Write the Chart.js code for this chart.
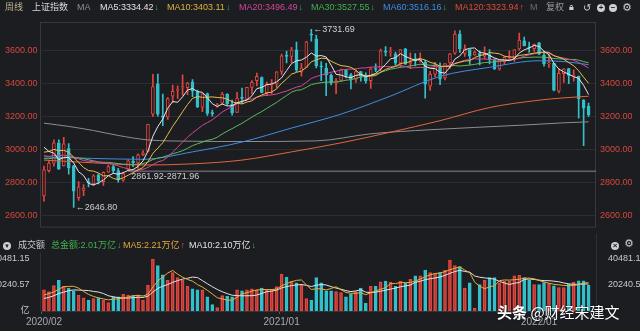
<!DOCTYPE html>
<html>
<head>
<meta charset="utf-8">
<script src="https://cdn.jsdelivr.net/npm/chart.js@4.4.1/dist/chart.umd.min.js"></script>
<style>
  body { margin: 0; width: 640px; height: 331px; overflow: hidden; position: relative; background: #1c1d21;
         font-family: "Liberation Sans", "Noto Sans CJK SC", sans-serif; }
  canvas { position: absolute; left: 0; }
  #main { top: 0; }
  #vol { top: 234px; }
  .t { position: absolute; font-size: 9px; line-height: 15px; white-space: nowrap; }
  .dn { color: #2fb14a; margin-left: 1px; }
  .upa { color: #e2463f; margin-left: 1px; }
  .dot { position: absolute; width: 8px; height: 8px; border-radius: 50%; background: #cfcfd2; color: #1c1d21;
         font-size: 8px; line-height: 8px; text-align: center; font-weight: bold; }
  #mark { position: absolute; left: 497px; top: 302px; font-size: 15px; line-height: 20px; color: #fff;
          font-family: "Noto Sans CJK SC", sans-serif; text-shadow: 0 0 2px rgba(0,0,0,0.6); white-space: nowrap; }
</style>
</head>
<body>
<canvas id="main" width="640" height="236"></canvas>
<canvas id="vol" width="640" height="97"></canvas>

<div class="t" style="left:5px;top:0;color:#bdb391">周线</div>
<div class="t" style="left:32px;top:0;color:#d6d6d8">上证指数</div>
<div class="t" style="left:77px;top:0;color:#8e8e92">MA</div>
<div class="t" id="hMA5" style="left:100px;top:0;color:#e4e4e6"></div>
<div class="t" id="hMA10" style="left:167px;top:0;color:#dcb43c"></div>
<div class="t" id="hMA20" style="left:239px;top:0;color:#d2449a"></div>
<div class="t" id="hMA30" style="left:311px;top:0;color:#3fb04e"></div>
<div class="t" id="hMA60" style="left:383px;top:0;color:#3a8ee0"></div>
<div class="t" id="hMA120" style="left:455px;top:0;color:#e04a3a"></div>
<div class="t" style="left:530px;top:0;color:#6d6d72">M</div>
<div class="t" style="left:546px;top:0;color:#9c9ca0">复权</div>
<div class="t" style="left:569px;top:0;color:#cfcfd2">&#x1F512;&#xFE0E;</div>
<div class="t" style="left:583px;top:0;color:#cfcfd2;font-size:10px">&#x21BA;</div>
<div class="dot" style="left:597px;top:4px">+</div>
<div class="dot" style="left:609px;top:4px">&#x2212;</div>
<div class="t" style="left:622px;top:0;color:#cfcfd2;font-size:11px;font-family:'DejaVu Sans'">&#x2699;</div>

<div class="dot" style="left:3px;top:242px;font-size:6px">&#x25BC;</div>
<div class="t" style="left:18px;top:238px;color:#c8c8cb">成交额</div>
<div class="t" id="hVol" style="left:51px;top:238px;color:#3fb04e"></div>
<div class="t" id="hVMA5" style="left:123px;top:238px;color:#e0a83a"></div>
<div class="t" id="hVMA10" style="left:189px;top:238px;color:#e2e2e4"></div>
<div class="dot" style="left:611px;top:242px">&#xD7;</div>
<div class="t" style="left:624px;top:236px;color:#cfcfd2;font-size:11px;font-family:'DejaVu Sans'">&#x2699;</div>

<div id="mark"><b>头条</b> @财经宋建文</div>

<script>
// Shanghai Composite, weekly candles, 2020/02/07 - 2022/03/25
const weeks = [
  '2020/02/07','2020/02/14','2020/02/21','2020/02/28','2020/03/06','2020/03/13','2020/03/20','2020/03/27','2020/04/03','2020/04/10',
  '2020/04/17','2020/04/24','2020/04/30','2020/05/08','2020/05/15','2020/05/22','2020/05/29','2020/06/05','2020/06/12','2020/06/19',
  '2020/06/24','2020/07/03','2020/07/10','2020/07/17','2020/07/24','2020/07/31','2020/08/07','2020/08/14','2020/08/21','2020/08/28',
  '2020/09/04','2020/09/11','2020/09/18','2020/09/25','2020/09/30','2020/10/09','2020/10/16','2020/10/23','2020/10/30','2020/11/06',
  '2020/11/13','2020/11/20','2020/11/27','2020/12/04','2020/12/11','2020/12/18','2020/12/25','2020/12/31','2021/01/08','2021/01/15',
  '2021/01/22','2021/01/29','2021/02/05','2021/02/10','2021/02/19','2021/02/26','2021/03/05','2021/03/12','2021/03/19','2021/03/26',
  '2021/04/02','2021/04/09','2021/04/16','2021/04/23','2021/04/30','2021/05/07','2021/05/14','2021/05/21','2021/05/28','2021/06/04',
  '2021/06/11','2021/06/18','2021/06/25','2021/07/02','2021/07/09','2021/07/16','2021/07/23','2021/07/30','2021/08/06','2021/08/13',
  '2021/08/20','2021/08/27','2021/09/03','2021/09/10','2021/09/17','2021/09/24','2021/09/30','2021/10/08','2021/10/15','2021/10/22',
  '2021/10/29','2021/11/05','2021/11/12','2021/11/19','2021/11/26','2021/12/03','2021/12/10','2021/12/17','2021/12/24','2021/12/31',
  '2022/01/07','2022/01/14','2022/01/21','2022/01/28','2022/02/11','2022/02/18','2022/02/25','2022/03/04','2022/03/11','2022/03/18',
  '2022/03/25'
];

const opens = [
  2716.70, 2870.00, 2916.00, 3040.00, 2899.00, 3005.00, 2899.60, 2706.00, 2750.00, 2804.00,
  2792.00, 2845.00, 2804.00, 2861.00, 2895.00, 2871.00, 2813.00, 2878.00, 2929.00, 2918.00,
  2966.00, 2988.00, 3215.00, 3400.00, 3198.00, 3198.00, 3324.00, 3359.00, 3380.00, 3376.00,
  3410.00, 3349.00, 3258.00, 3340.00, 3220.00, 3262.00, 3281.00, 3335.00, 3274.00, 3226.00,
  3318.00, 3306.00, 3378.00, 3418.00, 3438.00, 3346.00, 3393.00, 3397.00, 3474.68, 3571.00,
  3566.00, 3606.00, 3470.00, 3500.00, 3701.00, 3673.00, 3503.00, 3496.00, 3451.00, 3404.00,
  3420.00, 3481.00, 3454.00, 3426.00, 3474.00, 3444.00, 3418.00, 3493.00, 3488.00, 3599.00,
  3588.00, 3582.00, 3526.00, 3612.00, 3523.00, 3551.00, 3541.00, 3530.00, 3385.00, 3458.00,
  3506.00, 3436.00, 3527.00, 3586.00, 3703.00, 3585.00, 3608.00, 3575.00, 3583.00, 3568.00,
  3576.00, 3545.00, 3491.00, 3533.00, 3560.00, 3559.00, 3612.00, 3661.00, 3621.00, 3614.00,
  3649.00, 3575.00, 3521.00, 3524.00, 3355.00, 3462.00, 3493.00, 3447.00, 3446.00, 3300.00,
  3264.00
];
const highs = [
  2899.31, 2926.90, 3058.90, 3058.00, 3074.26, 3036.00, 2903.00, 2804.00, 2786.00, 2824.00,
  2847.00, 2852.00, 2864.00, 2904.00, 2903.00, 2885.00, 2861.92, 2937.00, 2957.00, 2973.00,
  2993.00, 3152.81, 3456.97, 3458.79, 3337.00, 3316.00, 3392.00, 3387.00, 3454.00, 3408.00,
  3425.00, 3362.00, 3342.00, 3343.00, 3240.00, 3280.00, 3347.00, 3340.00, 3301.00, 3347.00,
  3373.00, 3378.00, 3419.00, 3465.00, 3442.00, 3410.00, 3426.00, 3474.00, 3580.00, 3599.00,
  3621.00, 3654.00, 3525.00, 3659.00, 3731.69, 3697.00, 3535.00, 3524.00, 3461.00, 3431.00,
  3489.00, 3487.00, 3463.00, 3483.00, 3476.00, 3466.00, 3497.00, 3521.00, 3611.00, 3626.00,
  3622.00, 3593.00, 3608.00, 3615.00, 3588.00, 3583.00, 3589.00, 3542.00, 3475.00, 3531.00,
  3528.00, 3523.00, 3585.00, 3722.00, 3723.85, 3637.00, 3608.00, 3600.00, 3600.00, 3625.00,
  3608.00, 3553.00, 3540.00, 3565.00, 3600.00, 3608.00, 3708.00, 3684.00, 3654.00, 3641.00,
  3651.89, 3597.00, 3580.00, 3524.00, 3490.00, 3492.00, 3494.00, 3484.00, 3447.00, 3304.00,
  3282.00
];
const lows = [
  2685.27, 2862.00, 2898.00, 2878.50, 2898.00, 2849.00, 2646.80, 2689.00, 2719.00, 2771.00,
  2779.00, 2790.00, 2781.00, 2860.00, 2857.00, 2800.00, 2805.00, 2871.96, 2895.00, 2885.00,
  2962.00, 2985.00, 3200.00, 3202.00, 3144.00, 3182.00, 3284.00, 3310.00, 3331.00, 3333.00,
  3321.00, 3254.00, 3230.00, 3207.00, 3202.00, 3257.00, 3275.00, 3270.00, 3209.00, 3225.00,
  3279.00, 3302.00, 3338.00, 3387.00, 3344.00, 3328.00, 3340.00, 3376.00, 3457.00, 3527.00,
  3530.00, 3474.00, 3446.00, 3500.00, 3660.00, 3496.00, 3418.00, 3328.00, 3393.00, 3339.00,
  3415.00, 3436.00, 3369.00, 3408.00, 3415.00, 3404.00, 3371.00, 3474.00, 3477.00, 3570.00,
  3566.00, 3511.00, 3499.00, 3518.00, 3492.00, 3509.00, 3531.00, 3312.00, 3359.00, 3443.00,
  3395.00, 3424.00, 3494.00, 3578.00, 3590.00, 3567.00, 3518.00, 3572.00, 3515.00, 3553.00,
  3520.00, 3485.00, 3483.00, 3518.00, 3548.00, 3536.00, 3604.00, 3630.00, 3591.00, 3597.00,
  3577.00, 3507.00, 3500.00, 3357.00, 3344.00, 3408.00, 3400.00, 3415.00, 3190.00, 3023.30,
  3200.00
];
const closes = [
  2875.96, 2917.01, 3039.67, 2880.30, 3034.51, 2887.43, 2745.62, 2772.20, 2763.99, 2796.63,
  2838.49, 2808.53, 2860.08, 2895.34, 2868.46, 2813.77, 2852.35, 2930.80, 2919.74, 2967.63,
  2979.55, 3152.81, 3383.32, 3214.13, 3196.77, 3310.01, 3354.04, 3360.10, 3380.68, 3403.81,
  3355.37, 3260.35, 3338.09, 3219.42, 3218.05, 3272.08, 3336.36, 3278.00, 3224.53, 3312.16,
  3310.10, 3377.73, 3408.31, 3444.58, 3347.19, 3394.90, 3396.56, 3473.07, 3570.11, 3566.38,
  3606.75, 3483.07, 3496.33, 3655.09, 3696.17, 3509.08, 3501.99, 3453.08, 3404.66, 3418.33,
  3484.39, 3450.68, 3426.62, 3474.17, 3446.86, 3418.87, 3490.38, 3486.56, 3600.78, 3591.84,
  3589.75, 3525.10, 3607.56, 3518.76, 3524.09, 3539.30, 3550.40, 3397.36, 3458.23, 3516.30,
  3427.33, 3522.16, 3581.73, 3703.11, 3613.97, 3613.07, 3568.17, 3592.17, 3572.37, 3582.60,
  3547.34, 3491.57, 3539.10, 3560.37, 3564.09, 3607.43, 3666.35, 3632.36, 3618.05, 3639.78,
  3579.54, 3521.26, 3522.57, 3361.44, 3462.95, 3490.76, 3451.41, 3447.65, 3309.75, 3251.07,
  3212.24
];
// the 30 weekly closes before the first candle, so the short averages start on the left edge
const preCloses = [
  3011.06, 2930.55, 2924.20, 2944.54, 2867.84, 2774.75, 2823.82, 2897.43, 2886.24, 2999.60,
  3031.24, 3006.45, 2932.17, 2905.19, 2973.66, 2938.14, 2954.38, 2958.20, 2964.18, 2891.34,
  2885.29, 2871.98, 2912.01, 2967.68, 3004.94, 3005.04, 3050.12, 3092.29, 3075.50, 2976.53
];

// weekly turnover, 亿元
const volumes = [
  16500, 15150, 19740, 23790, 19200, 17850, 15690, 12450, 10290, 8400,
  9750, 10290, 8400, 6510, 11100, 11100, 12990, 12450, 11910, 12450,
  8400, 20010, 40481.15, 35400, 28110, 23790, 30000, 25950, 23790, 19200,
  17310, 16500, 16500, 11100, 5000, 2600, 12000, 11500, 11100, 16500,
  15700, 16500, 17300, 16000, 17850, 16000, 16500, 19000, 28650, 26490,
  23250, 21900, 20550, 9750, 8400, 25950, 21900, 15690, 15690, 15150,
  14340, 11100, 12990, 15150, 17850, 6240, 19200, 19200, 22710, 23250,
  22440, 19200, 23250, 21900, 24600, 27300, 27300, 31890, 30000, 29190,
  30000, 31890, 39600, 35400, 34500, 17850, 21900, 2190, 20550, 23790,
  25950, 25950, 21900, 23250, 23250, 27300, 27840, 25950, 23790, 20550,
  20550, 22100, 21340, 19540, 18260, 18260, 20980, 22280, 23570, 23570,
  20100
];
const preVolumes = [6800, 6500, 7200, 7600, 7150, 9500, 13800, 12200, 10250];

// long averages at these weeks
const ma60Weeks  = [0, 10, 20, 30, 40, 50, 60, 70, 80, 90, 100, 105, 110];
const ma60Values = [2955, 2945, 2940, 2985, 3045, 3130, 3215, 3325, 3445, 3500, 3540, 3535, 3516.16];
const ma120Weeks  = [0, 10, 20, 30, 40, 50, 60, 70, 80, 90, 100, 105, 110];
const ma120Values = [2935, 2918, 2905, 2912, 2935, 2985, 3040, 3105, 3175, 3255, 3300, 3314, 3323.94];
const ma250Weeks  = [0, 5, 10, 15, 21, 30, 40, 55, 66, 78, 96, 105, 110];
const ma250Values = [3160, 3140, 3115, 3085, 3058, 3050, 3048, 3052, 3095, 3120, 3147, 3162, 3168];

// unfilled gap between the weeks of 05/29 and 06/05, 2020
const gapWeek = 17, gapLow = 2861.92, gapHigh = 2871.96;

const priceTicks = [2600, 2800, 3000, 3200, 3400, 3600];
const volTicks = [0, 20240.57, 40481.15];
const tickWeeks = [0, 48, 100];
const tickLabels = ['2020/02', '2021/01', '2022/01'];

const UP = '#e2463f', DOWN = '#32c0cb', BG = '#1c1d21';
const FONT = '"Liberation Sans", "Noto Sans CJK SC", sans-serif';

function movingAvg(values, history, n) {
  const all = history.concat(values);
  return values.map((_, i) => {
    const end = history.length + i;
    if (end + 1 < n) return null;
    let s = 0;
    for (let k = end - n + 1; k <= end; k++) s += all[k];
    return s / n;
  });
}
function sampled(idx, vals) {
  const out = new Array(weeks.length).fill(null);
  idx.forEach((w, k) => { out[w] = vals[k]; });
  return out;
}
function maLine(label, data, color, smooth) {
  return {
    type: 'line', label, data, borderColor: color, borderWidth: 1, pointRadius: 0,
    spanGaps: true, tension: smooth ? 0.4 : 0, cubicInterpolationMode: smooth ? 'monotone' : 'default'
  };
}

const up = closes.map((c, i) => c >= opens[i]);
const ma5 = movingAvg(closes, preCloses, 5);
const ma10 = movingAvg(closes, preCloses, 10);
const ma20 = movingAvg(closes, preCloses, 20);
const ma30 = movingAvg(closes, preCloses, 30);
const ma60 = sampled(ma60Weeks, ma60Values);
const ma120 = sampled(ma120Weeks, ma120Values);
const ma250 = sampled(ma250Weeks, ma250Values);
const vma5 = movingAvg(volumes, preVolumes, 5);
const vma10 = movingAvg(volumes, preVolumes, 10);

// one spare slot on the right keeps the last candle off the frame
const slots = weeks.concat(['']);

// frame, gap band and the high/low labels
const priceDecor = {
  id: 'priceDecor',
  beforeDatasetsDraw(chart) {
    const { ctx, chartArea: a, scales: { x, y } } = chart;
    ctx.save();
    ctx.strokeStyle = '#38393e';
    ctx.lineWidth = 1;
    ctx.strokeRect(a.left - 1, a.top + 0.5, a.right - a.left + 0.5, a.bottom - a.top);
    const gx = x.getPixelForValue(gapWeek);
    const g1 = y.getPixelForValue(gapHigh), g2 = y.getPixelForValue(gapLow);
    ctx.fillStyle = 'rgba(140,140,146,0.6)';
    ctx.fillRect(gx, g1, a.right - gx, Math.max(1, g2 - g1));
    ctx.restore();
  },
  afterDatasetsDraw(chart) {
    const { ctx, scales: { x, y } } = chart;
    const hi = highs.indexOf(Math.max(...highs));
    const lo = lows.indexOf(Math.min(...lows));
    ctx.save();
    ctx.font = '9px ' + FONT;
    ctx.fillStyle = '#cfcfd2';
    ctx.textBaseline = 'middle';
    ctx.fillText('\u2190' + highs[hi].toFixed(2), x.getPixelForValue(hi) + 2, y.getPixelForValue(highs[hi]));
    ctx.fillText('\u2190' + lows[lo].toFixed(2), x.getPixelForValue(lo) + 2, y.getPixelForValue(lows[lo]));
    ctx.textBaseline = 'top';
    ctx.fillText(gapLow.toFixed(2) + '-' + gapHigh.toFixed(2), x.getPixelForValue(gapWeek) + 3, y.getPixelForValue(gapLow));
    ctx.restore();
  }
};

const volDecor = {
  id: 'volDecor',
  beforeDatasetsDraw(chart) {
    const { ctx, chartArea: a } = chart;
    ctx.save();
    ctx.strokeStyle = '#2e2f34';
    ctx.beginPath();
    ctx.moveTo(a.left - 1, a.top); ctx.lineTo(a.left - 1, a.bottom);
    ctx.moveTo(a.right + 0.5, 0); ctx.lineTo(a.right + 0.5, a.bottom);
    ctx.stroke();
    ctx.restore();
  }
};

function priceAxis(position, width) {
  return {
    position, min: 2530, max: 3776,
    afterFit: s => { s.width = width; },
    afterBuildTicks: s => { s.ticks = priceTicks.map(v => ({ value: v })); },
    ticks: { color: '#d8463e', font: { family: FONT, size: 9 }, padding: 4, callback: v => v.toFixed(2) },
    grid: { color: '#2c2d32', drawTicks: false, drawOnChartArea: position === 'left' },
    border: { display: false }
  };
}

new Chart(document.getElementById('main'), {
  type: 'bar',
  data: {
    labels: slots,
    datasets: [
      maLine('MA5', ma5, '#e6e6e8'),
      maLine('MA10', ma10, '#e5c04a'),
      maLine('MA20', ma20, '#d6479d'),
      maLine('MA30', ma30, '#5cbb5c'),
      maLine('MA60', ma60, '#3d8fe0', true),
      maLine('MA120', ma120, '#e0673c', true),
      maLine('MA250', ma250, '#8d8d92', true),
      {
        label: 'body', data: opens.map((o, i) => [o, closes[i]]),
        backgroundColor: up.map(u => u ? BG : DOWN), borderColor: up.map(u => u ? UP : DOWN),
        borderWidth: 1, borderSkipped: false, barThickness: 3, grouped: false, minBarLength: 1
      },
      {
        label: 'wick', data: lows.map((l, i) => [l, highs[i]]),
        backgroundColor: up.map(u => u ? UP : DOWN), barThickness: 1, grouped: false
      }
    ]
  },
  options: {
    responsive: false, animation: false,
    layout: { padding: { top: 22, bottom: 4, left: 0, right: 0 } },
    plugins: { legend: { display: false }, tooltip: { enabled: false } },
    scales: {
      x: { display: false, offset: true },
      y: priceAxis('left', 41.5),
      y2: priceAxis('right', 44)
    }
  },
  plugins: [priceDecor]
});

function volAxis(position, width, ticks) {
  return {
    position, min: 0, max: 45930,
    afterFit: s => { s.width = width; },
    afterBuildTicks: s => { s.ticks = ticks.map(v => ({ value: v })); },
    ticks: { color: '#c9c9cc', font: { family: FONT, size: 9 }, padding: 4,
             callback: v => v === 0 ? '亿' : v.toFixed(2) },
    grid: { display: false },
    border: { display: false }
  };
}

new Chart(document.getElementById('vol'), {
  type: 'bar',
  data: {
    labels: slots,
    datasets: [
      maLine('VMA5', vma5, '#e5b13a'),
      maLine('VMA10', vma10, '#e2e2e4'),
      {
        label: 'volume', data: volumes,
        backgroundColor: up.map(u => u ? 'rgba(226,70,63,0.3)' : DOWN), borderColor: up.map(u => u ? UP : DOWN),
        borderWidth: 1, borderSkipped: false, barThickness: 3, grouped: false
      }
    ]
  },
  options: {
    responsive: false, animation: false,
    layout: { padding: { top: 18, bottom: 0, left: 0, right: 0 } },
    plugins: { legend: { display: false }, tooltip: { enabled: false } },
    scales: {
      x: {
        offset: true,
        afterFit: s => { s.height = 20; },
        grid: { drawOnChartArea: false, tickLength: 3,
                color: c => tickWeeks.includes(c.index) ? '#5a5b60' : 'rgba(0,0,0,0)' },
        border: { color: '#34353a' },
        ticks: { autoSkip: false, maxRotation: 0, padding: 2, color: '#a9a9ad', font: { family: FONT, size: 10 },
                 callback: (v, i) => { const k = tickWeeks.indexOf(i); return k < 0 ? '' : tickLabels[k]; } }
      },
      y: volAxis('left', 41.5, volTicks),
      y2: volAxis('right', 44, volTicks.slice(1))
    }
  },
  plugins: [volDecor]
});

// header values
const last = a => a[a.length - 1];
const prev = a => a[a.length - 2];
function arrow(a, b) { return a >= b ? '<span class="upa">\u2191</span>' : '<span class="dn">\u2193</span>'; }
function lastTwoSampled(vals) { return [vals[vals.length - 1], vals[vals.length - 2]]; }
const heads = [
  ['hMA5', 'MA5', last(ma5), prev(ma5)],
  ['hMA10', 'MA10', last(ma10), prev(ma10)],
  ['hMA20', 'MA20', last(ma20), prev(ma20)],
  ['hMA30', 'MA30', last(ma30), prev(ma30)],
  ['hMA60', 'MA60', ...lastTwoSampled(ma60Values)],
  ['hMA120', 'MA120', ...lastTwoSampled(ma120Values)]
];
heads.forEach(([id, name, v, p]) => {
  document.getElementById(id).innerHTML = name + ':' + v.toFixed(2) + arrow(v, p);
});
const wan = v => (v / 10000).toFixed(2) + '万亿';
document.getElementById('hVol').innerHTML = '总金额:' + wan(last(volumes)) + arrow(last(volumes), prev(volumes));
document.getElementById('hVMA5').innerHTML = 'MA5:' + wan(last(vma5)) + arrow(last(vma5), prev(vma5));
document.getElementById('hVMA10').innerHTML = 'MA10:' + wan(last(vma10)) + arrow(last(vma10), prev(vma10));
</script>
</body>
</html>
